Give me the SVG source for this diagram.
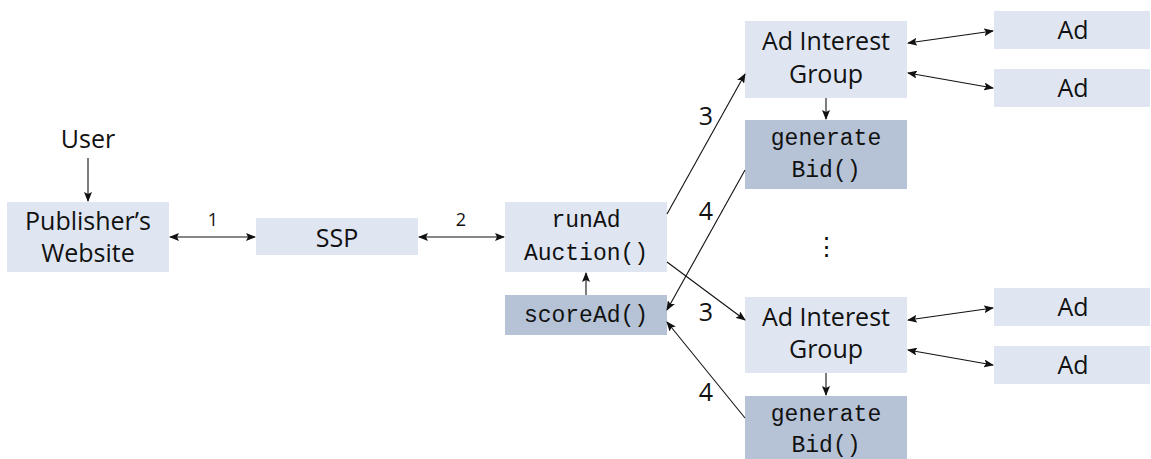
<svg xmlns="http://www.w3.org/2000/svg" width="1151" height="459" viewBox="0 0 1151 459">
<defs>
<style>
.l{fill:#dfe6f1}
.d{fill:#b6c3d6}
.t{font-family:"Open Sans","Noto Sans",sans-serif;font-size:25px;fill:#111;text-anchor:middle}
.m{font-family:"Liberation Mono","DejaVu Sans Mono",monospace;font-size:23px;fill:#111;text-anchor:middle}
.s{font-family:"Open Sans","Noto Sans",sans-serif;font-size:18px;fill:#111;text-anchor:middle}
.c{stroke:#111;stroke-width:1.1;fill:none;marker-end:url(#a)}
.b{marker-start:url(#as)}
</style>
<marker id="a" viewBox="0 0 10 8" refX="9" refY="4" markerWidth="10" markerHeight="8" markerUnits="userSpaceOnUse" orient="auto"><path d="M0,0 L10,4 L0,8 L2,4 Z" fill="#111"/></marker>
<marker id="as" viewBox="0 0 10 8" refX="1" refY="4" markerWidth="10" markerHeight="8" markerUnits="userSpaceOnUse" orient="auto"><path d="M10,0 L0,4 L10,8 L8,4 Z" fill="#111"/></marker>
</defs>
<g id="user"><text class="t" x="88" y="148">User</text></g>
<g id="publisher"><rect class="l" x="7" y="202" width="162" height="70"/><text class="t" x="88" y="230">Publisher’s</text><text class="t" x="88" y="262">Website</text></g>
<g id="ssp"><rect class="l" x="256" y="218" width="162" height="37"/><text class="t" x="337" y="247">SSP</text></g>
<g id="runAdAuction"><rect class="l" x="505" y="202" width="162" height="70"/><text class="m" x="586" y="227">runAd</text><text class="m" x="586" y="260">Auction()</text></g>
<g id="scoreAd"><rect class="d" x="505" y="295" width="162" height="40"/><text class="m" x="586" y="322">scoreAd()</text></g>
<g id="aig1"><rect class="l" x="745" y="21" width="162" height="77"/><text class="t" x="826" y="50">Ad Interest</text><text class="t" x="826" y="83">Group</text></g>
<g id="gen1"><rect class="d" x="745" y="120" width="162" height="69"/><text class="m" x="826" y="145">generate</text><text class="m" x="826" y="177">Bid()</text></g>
<g id="ad1"><rect class="l" x="994" y="11" width="156" height="38"/><text class="t" x="1073" y="39">Ad</text></g>
<g id="ad2"><rect class="l" x="994" y="69" width="156" height="38"/><text class="t" x="1073" y="97">Ad</text></g>
<g id="dots"><text class="t" x="826" y="255">⋮</text></g>
<g id="aig2"><rect class="l" x="745" y="297" width="162" height="76"/><text class="t" x="826" y="326">Ad Interest</text><text class="t" x="826" y="358">Group</text></g>
<g id="gen2"><rect class="d" x="745" y="396" width="162" height="63"/><text class="m" x="826" y="421">generate</text><text class="m" x="826" y="452">Bid()</text></g>
<g id="ad3"><rect class="l" x="994" y="288" width="156" height="38"/><text class="t" x="1073" y="316">Ad</text></g>
<g id="ad4"><rect class="l" x="994" y="346" width="156" height="38"/><text class="t" x="1073" y="374">Ad</text></g>
<g id="connectors">
<line class="c" x1="88" y1="158" x2="88" y2="201"/>
<line class="c b" x1="170" y1="237" x2="255" y2="237"/>
<text class="s" x="213" y="226">1</text>
<line class="c b" x1="419" y1="237" x2="504" y2="237"/>
<text class="s" x="461" y="226">2</text>
<line class="c" x1="586" y1="295" x2="586" y2="273"/>
<line class="c" x1="667" y1="214" x2="745" y2="74"/>
<text class="t" x="706" y="125">3</text>
<line class="c" x1="745" y1="170" x2="667" y2="310"/>
<text class="t" x="706" y="220">4</text>
<line class="c" x1="667" y1="262" x2="745" y2="320"/>
<text class="t" x="706" y="321">3</text>
<line class="c" x1="745" y1="418" x2="667" y2="322"/>
<text class="t" x="706" y="401">4</text>
<line class="c" x1="826" y1="98" x2="826" y2="119"/>
<line class="c" x1="826" y1="373" x2="826" y2="395"/>
<line class="c b" x1="908" y1="43" x2="993" y2="31"/>
<line class="c b" x1="908" y1="73" x2="993" y2="88"/>
<line class="c b" x1="908" y1="320" x2="993" y2="308"/>
<line class="c b" x1="908" y1="350" x2="993" y2="365"/>
</g>
</svg>
